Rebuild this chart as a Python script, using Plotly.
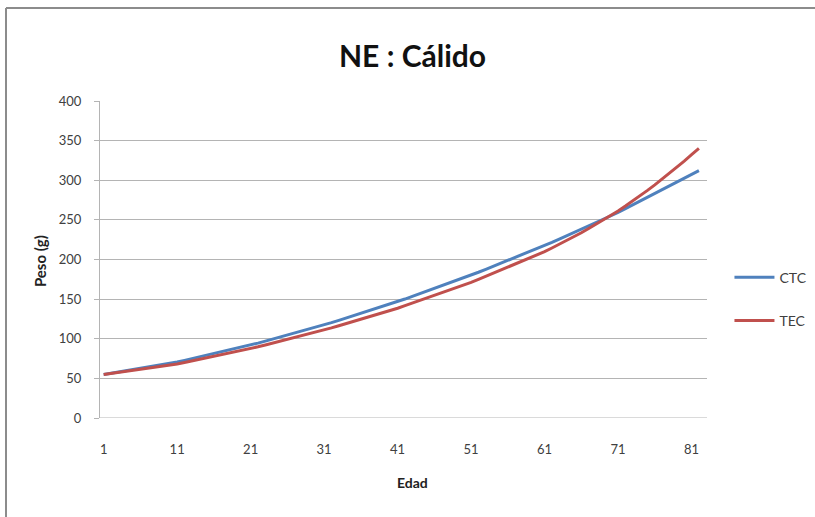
import plotly.graph_objects as go

# Edad (days) and body weight (g) for the two groups
edad = list(range(1, 83))

ctc = [55.0,
       56.5, 58.0, 59.5, 61.0, 62.5, 64.0, 65.5, 67.0, 68.5,
       70.6, 72.7, 74.8, 76.9, 79.0, 81.1, 83.2, 85.3, 87.4, 89.5,
       92.0, 94.5, 97.0, 99.5, 102.0, 104.5, 107.0, 109.5, 112.0, 114.5,
       117.4, 120.3, 123.2, 126.1, 129.0, 131.9, 134.8, 137.7, 140.6, 143.5,
       146.8, 150.1, 153.4, 156.7, 160.0, 163.3, 166.6, 169.9, 173.2, 176.5,
       180.2, 183.9, 187.6, 191.3, 195.0, 198.7, 202.4, 206.1, 209.8, 213.5,
       217.6, 221.7, 225.8, 229.9, 234.0, 238.1, 242.2, 246.3, 250.4, 254.5,
       259.3, 264.1, 268.9, 273.7, 278.5, 283.3, 288.1, 292.9, 297.7, 302.5,
       307.3, 312.1]

tec = [55.0,
       56.3, 57.5, 58.8, 60.0, 61.3, 62.5, 63.8, 65.0, 66.3,
       68.2, 70.1, 72.0, 73.9, 75.8, 77.7, 79.6, 81.5, 83.4, 85.3,
       87.6, 89.9, 92.2, 94.5, 96.8, 99.1, 101.4, 103.7, 106.0, 108.3,
       111.0, 113.7, 116.4, 119.1, 121.8, 124.5, 127.2, 129.9, 132.6, 135.3,
       138.5, 141.7, 144.9, 148.1, 151.3, 154.5, 157.7, 160.9, 164.1, 167.3,
       171.1, 174.9, 178.7, 182.5, 186.3, 190.1, 193.9, 197.7, 201.5, 205.3,
       209.9, 214.5, 219.1, 223.7, 228.3, 233.7, 239.1, 244.5, 249.9, 255.3,
       261.2, 267.4, 273.8, 280.4, 287.2, 294.2, 301.4, 308.8, 316.4, 324.2,
       332.2, 340.2]

x_ticks = [1, 11, 21, 31, 41, 51, 61, 71, 81]
y_ticks = [0, 50, 100, 150, 200, 250, 300, 350, 400]

FONT = "Lato"
TXT = "#404040"

W_PLOT = 607   # plot-area width in px
H_PLOT = 317   # plot-area height in px

fig = go.Figure()
fig.add_trace(go.Scatter(x=edad, y=ctc, mode="lines", name="CTC",
                         legendgroup="a",
                         line=dict(color="#4F81BD", width=3)))
fig.add_trace(go.Scatter(x=edad, y=tec, mode="lines", name="TEC",
                         legendgroup="b",
                         line=dict(color="#C0504D", width=3)))

fig.update_layout(
    width=815, height=517,
    margin=dict(l=100, r=108, t=101, b=99, autoexpand=False),
    paper_bgcolor="white", plot_bgcolor="white",
    font=dict(family=FONT, size=13, color=TXT),
    showlegend=True,
    legend=dict(x=1.037, y=0.375, xanchor="left", yanchor="middle",
                font=dict(family=FONT, size=14, color=TXT),
                tracegroupgap=22, itemwidth=40,
                bgcolor="rgba(0,0,0,0)"),
    xaxis=dict(range=[0.5, 83.1], tickvals=x_ticks,
               ticktext=[str(v) for v in x_ticks],
               showgrid=False, zeroline=False,
               showline=False, ticks="",
               ticklabelstandoff=22,
               tickfont=dict(family=FONT, size=13, color=TXT)),
    yaxis=dict(range=[0, 400], tickvals=y_ticks,
               showgrid=True, gridcolor="#B4B4B4", gridwidth=1,
               zeroline=False,
               showline=True, linecolor="#B4B4B4", linewidth=1,
               ticks="outside", ticklen=5, tickcolor="#B4B4B4",
               ticklabelstandoff=10,
               tickfont=dict(family=FONT, size=13, color=TXT)),
    annotations=[
        dict(text="<b>NE : Cálido</b>", xref="paper", yref="paper",
             x=312 / W_PLOT, y=1.145, xanchor="center", yanchor="middle",
             showarrow=False, font=dict(family=FONT, size=30, color="#111111")),
        dict(text="<b>Peso (g)</b>", xref="paper", yref="paper",
             x=-60 / W_PLOT, y=0.495, xanchor="center", yanchor="middle",
             textangle=-90, showarrow=False,
             font=dict(family=FONT, size=15, color="#222222")),
        dict(text="<b>Edad</b>", xref="paper", yref="paper",
             x=312 / W_PLOT, y=-0.202, xanchor="center", yanchor="middle",
             showarrow=False, font=dict(family=FONT, size=14, color="#222222")),
    ],
    shapes=[
        # x-axis baseline (the 0 gridline)
        dict(type="line", xref="paper", yref="y", x0=0, x1=1, y0=0, y1=0,
             line=dict(color="#B4B4B4", width=1), layer="below"),
        # chart frame, left and top edges
        dict(type="line", xref="paper", yref="paper",
             x0=-94 / W_PLOT, x1=-94 / W_PLOT, y0=410 / H_PLOT, y1=-99 / H_PLOT,
             line=dict(color="#8C8C8C", width=2)),
        dict(type="line", xref="paper", yref="paper",
             x0=-94 / W_PLOT, x1=715 / W_PLOT, y0=410 / H_PLOT, y1=410 / H_PLOT,
             line=dict(color="#8C8C8C", width=2)),
    ],
)

fig.write_html("out.html")
